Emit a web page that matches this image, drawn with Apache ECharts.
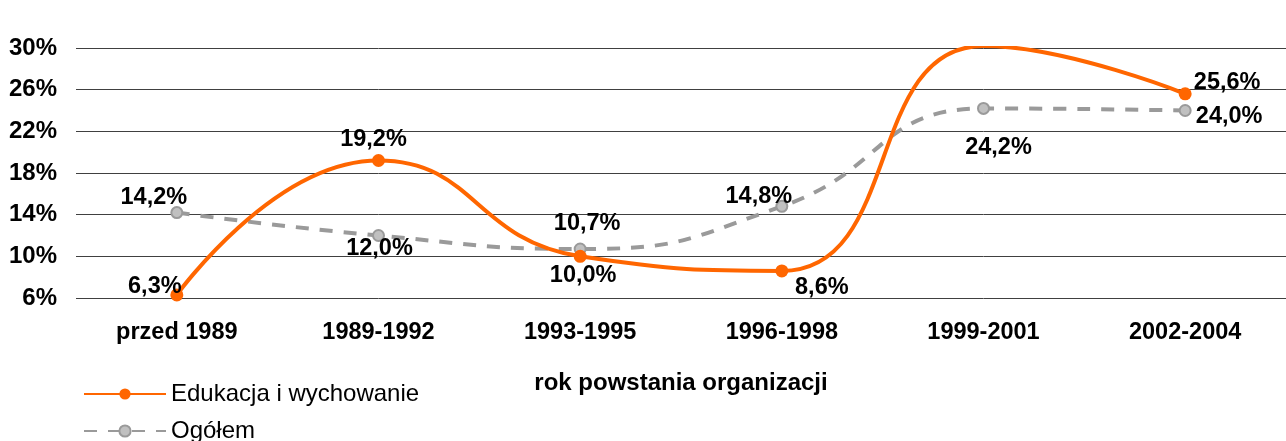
<!DOCTYPE html>
<html>
<head>
<meta charset="utf-8">
<script src="https://cdn.jsdelivr.net/npm/echarts@6/dist/echarts.min.js"></script>
<style>
  html, body { margin: 0; padding: 0; background: #fff; }
  #main { width: 1286px; height: 441px; }
</style>
</head>
<body>
<div id="main"></div>
<script>
var categories = ["przed 1989", "1989-1992", "1993-1995", "1996-1998", "1999-2001", "2002-2004"];
var edukacja = [6.3, 19.2, 10.0, 8.6, 30.2, 25.6];
var ogolem = [14.2, 12.0, 10.7, 14.8, 24.2, 24.0];
var yTicks = [6, 10, 14, 18, 22, 26, 30];

// label offsets (from point centre), per point
var eduOffsets = [[-22, -8], [-5, -21], [3, 19], [40, 17], [2, -20], [42, -11]];
var ogOffsets = [[-23, -15], [1, 13], [7, -26], [-23, -10], [15, 39], [44, 6]];

function fmt(v) {
  return v.toFixed(1).replace(".", ",") + "%";
}

function points(values, offsets) {
  return values.map(function (v, i) {
    return { value: v, label: { offset: offsets[i] } };
  });
}

var labelStyle = {
  show: true,
  position: "inside",
  fontFamily: "Liberation Sans",
  fontWeight: "bold",
  fontSize: 23.5,
  color: "#000",
  formatter: function (p) { return fmt(p.value); }
};

var myChart = echarts.init(document.getElementById("main"));
var option = {
  animation: false,
  textStyle: { fontFamily: "Liberation Sans" },
  grid: { left: 76, right: -22, top: 48, bottom: 143, containLabel: false },
  legend: {
    orient: "vertical",
    left: 83,
    top: 382,
    height: 120,
    padding: 0,
    itemWidth: 82,
    itemHeight: 14,
    itemGap: 13,
    textStyle: { fontSize: 24, color: "#000", fontFamily: "Liberation Sans" },
    data: ["Edukacja i wychowanie", "Ogółem"]
  },
  xAxis: {
    type: "category",
    data: categories,
    name: "rok powstania organizacji",
    nameLocation: "middle",
    nameGap: 73,
    nameTextStyle: { fontSize: 24, fontWeight: "bold", color: "#000", fontFamily: "Liberation Sans" },
    axisLine: { show: false },
    axisTick: { show: false },
    axisLabel: { margin: 23, fontSize: 23.5, fontWeight: "bold", color: "#000", fontFamily: "Liberation Sans" }
  },
  yAxis: {
    type: "value",
    min: yTicks[0],
    max: yTicks[yTicks.length - 1],
    interval: 4,
    axisLine: { show: false },
    axisTick: { show: false },
    splitLine: { show: true, lineStyle: { color: "#404040", width: 1 } },
    axisLabel: {
      margin: 19,
      fontSize: 24,
      fontWeight: "bold",
      color: "#000",
      fontFamily: "Liberation Sans",
      formatter: "{value}%"
    }
  },
  series: [
    {
      name: "Ogółem",
      type: "line",
      smooth: 0.5,
      data: points(ogolem, ogOffsets),
      symbol: "circle",
      symbolSize: 11,
      itemStyle: { color: "#C0C0C0", borderColor: "#9A9A9A", borderWidth: 2 },
      lineStyle: { color: "#9A9A9A", width: 4, type: [13, 11] },
      label: labelStyle,
      z: 2
    },
    {
      name: "Edukacja i wychowanie",
      type: "line",
      smooth: 0.5,
      data: points(edukacja, eduOffsets),
      symbol: "circle",
      symbolSize: 13,
      itemStyle: { color: "#FF6600" },
      lineStyle: { color: "#FF6600", width: 4 },
      label: labelStyle,
      z: 3
    }
  ]
};
option && myChart.setOption(option);
</script>
</body>
</html>
